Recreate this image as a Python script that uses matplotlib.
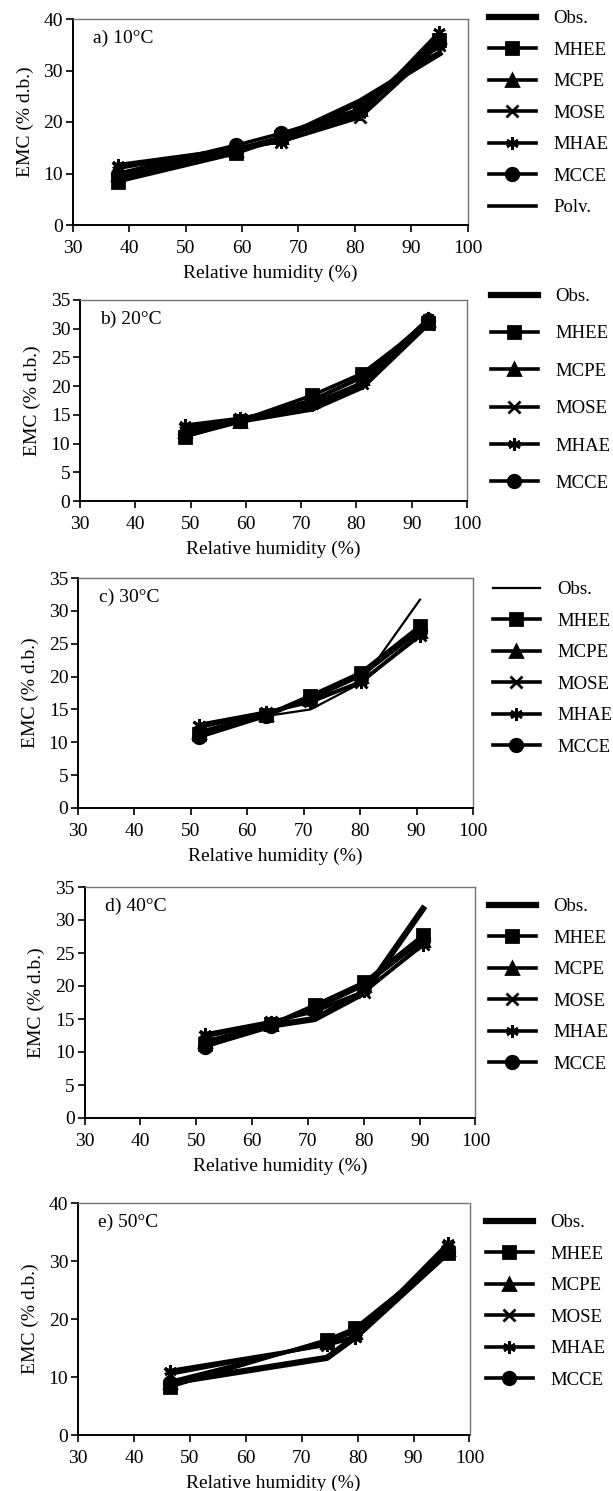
import numpy as np
import matplotlib
matplotlib.use('Agg')
import matplotlib.pyplot as plt

plt.rcParams['font.family'] = ['Liberation Serif', 'DejaVu Serif']

# relative humidity (%) at each temperature
rh_10 = [38, 59, 67, 81, 95]
rh_20 = [49, 59, 72, 81, 93]
rh_30 = [51.5, 63.4, 71.2, 80.1, 90.6]
rh_40 = [51.5, 63.4, 71.2, 80.1, 90.6]
rh_50 = [46.4, 74.5, 79.5, 96.2]

# EMC (% d.b.) per model
emc_10 = {
    'Obs.': [9.5, 14.5, 16.8, 24.0, 33.3],
    'MHEE': [8.4, 13.9, 17.0, 22.5, 36.0],
    'MCPE': [10.0, 14.5, 17.0, 22.5, 36.5],
    'MOSE': [11.0, 15.0, 16.2, 20.9, 35.0],
    'MHAE': [11.7, 14.8, 16.2, 21.5, 37.5],
    'MCCE': [10.0, 15.5, 17.8, 22.5, 35.3],
    'Polv.': [9.0, 14.5, 17.0, 22.0, 35.5],
}
emc_20 = {
    'Obs.': [11.5, 14.0, 16.1, 19.9, 31.0],
    'MHEE': [11.2, 14.0, 18.4, 22.2, 31.0],
    'MCPE': [12.2, 14.0, 17.5, 21.5, 31.5],
    'MOSE': [12.6, 14.3, 17.0, 20.5, 30.8],
    'MHAE': [13.2, 14.4, 16.8, 20.6, 31.8],
    'MCCE': [11.6, 14.0, 17.6, 21.6, 31.5],
}
emc_30 = {
    'Obs.': [11.0, 14.0, 15.0, 19.0, 31.7],
    'MHEE': [11.2, 14.2, 17.1, 20.6, 27.7],
    'MCPE': [11.6, 14.3, 16.6, 20.1, 27.0],
    'MOSE': [12.3, 14.5, 16.3, 19.1, 26.4],
    'MHAE': [12.7, 14.6, 16.1, 19.2, 26.2],
    'MCCE': [10.8, 14.0, 16.8, 20.3, 27.0],
}
emc_40 = {
    'Obs.': [11.0, 14.0, 15.0, 19.0, 31.7],
    'MHEE': [11.2, 14.2, 17.1, 20.6, 27.7],
    'MCPE': [11.6, 14.3, 16.6, 20.1, 27.0],
    'MOSE': [12.3, 14.5, 16.3, 19.1, 26.4],
    'MHAE': [12.7, 14.6, 16.1, 19.2, 26.2],
    'MCCE': [10.8, 14.0, 16.8, 20.3, 27.0],
}
emc_50 = {
    'Obs.': [9.0, 13.3, 16.8, 31.5],
    'MHEE': [8.3, 16.4, 18.4, 31.3],
    'MCPE': [9.2, 16.0, 17.8, 32.0],
    'MOSE': [10.5, 15.6, 17.0, 32.5],
    'MHAE': [11.1, 15.5, 16.8, 33.1],
    'MCCE': [9.0, 16.2, 18.2, 31.5],
}

markers = {'Obs.': None, 'MHEE': 's', 'MCPE': '^', 'MOSE': 'x',
           'MHAE': (6, 2, 0), 'MCCE': 'o', 'Polv.': None}

# title, x, data, ymax, ystep, axes box px (l, t, r, b), obs lw, legend (x, top) px, spacing
panels = [
    ('a) 10°C', rh_10, emc_10, 40, 10, (72.7, 19, 467.5, 225), 4.5, (489, 10), 0.77),
    ('b) 20°C', rh_20, emc_20, 35, 5, (80, 300, 467, 501), 4.5, (491, 288), 1.08),
    ('c) 30°C', rh_30, emc_30, 35, 5, (78, 578, 473, 808), 1.6, (493, 581), 0.77),
    ('d) 40°C', rh_40, emc_40, 35, 5, (84.5, 887, 475.5, 1118), 4.5, (489, 898), 0.77),
    ('e) 50°C', rh_50, emc_50, 40, 10, (78, 1203, 469.5, 1435), 4.5, (486, 1214), 0.77),
]

W, H = 613, 1491
fig = plt.figure(figsize=(W / 100, H / 100), dpi=100)

for title, x, data, ymax, ystep, (l, t, r, b), obs_lw, (lx, ly), lsp in panels:
    ax = fig.add_axes([l / W, 1 - b / H, (r - l) / W, (b - t) / H])
    for name, y in data.items():
        lw = obs_lw if name == 'Obs.' else 2.6
        ax.plot(x, y, color='black', lw=lw, marker=markers[name],
                markersize=9, markeredgewidth=2.0, label=name)
    ax.set_xlim(30, 100)
    ax.set_ylim(0, ymax)
    ax.set_xticks(np.arange(30, 101, 10))
    ax.set_yticks(np.arange(0, ymax + 1, ystep))
    ax.tick_params(labelsize=14, direction='out', length=5, width=1.2)
    ax.tick_params(axis='x', pad=6)
    ax.tick_params(axis='y', pad=2)
    for s in ['top', 'right']:
        ax.spines[s].set_color('0.45')
        ax.spines[s].set_linewidth(1.0)
        ax.spines[s].set_linestyle((0, (1, 1)))
    for s in ['left', 'bottom']:
        ax.spines[s].set_linewidth(1.4)
    ax.set_xlabel('Relative humidity (%)', fontsize=14, labelpad=5)
    ax.set_ylabel('EMC (% d.b.)', fontsize=14, labelpad=7)
    ax.text(0.052, 1 - 19 / (b - t), title, transform=ax.transAxes,
            fontsize=14, va='center')
    ax.legend(loc='upper left', bbox_to_anchor=(lx / W, 1 - ly / H),
              bbox_transform=fig.transFigure, frameon=False,
              fontsize=13.5, handlelength=2.5, labelspacing=lsp, handletextpad=0.95,
              borderaxespad=0, borderpad=0)

fig.savefig('out.png', dpi=100)
